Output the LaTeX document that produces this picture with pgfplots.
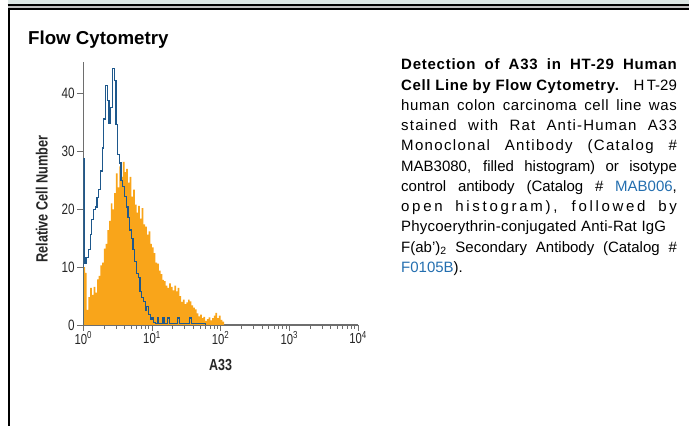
\documentclass[border=0pt]{standalone}
\usepackage{fontspec}
\setmainfont{Liberation Sans}
\newfontfamily\condf[FakeStretch=0.78]{Liberation Sans}
\usepackage{pgfplots}
\usepackage{pgfplotstable}
\pgfplotsset{compat=1.18}
\definecolor{historange}{RGB}{249,165,26}
\definecolor{isoblue}{RGB}{30,88,140}
\definecolor{axgray}{RGB}{110,110,110}
\definecolor{linkblue}{RGB}{35,110,175}
\definecolor{bandgray}{RGB}{219,229,227}

\pgfplotstableread{
u v
0.000 10.0
0.025 9.0
0.050 2.6
0.075 4.8
0.100 6.4
0.125 5.2
0.150 6.6
0.175 5.6
0.200 7.9
0.225 8.5
0.250 10.3
0.275 10.8
0.300 13.2
0.325 14.0
0.350 16.4
0.375 18.0
0.400 21.0
0.425 20.0
0.450 22.8
0.475 26.2
0.500 23.8
0.525 27.4
0.550 25.6
0.575 28.2
0.600 26.4
0.625 27.0
0.650 24.6
0.675 25.6
0.700 22.2
0.725 23.4
0.750 20.8
0.775 19.4
0.800 20.6
0.825 18.4
0.850 20.2
0.875 17.4
0.900 17.0
0.925 15.6
0.950 16.2
0.975 14.0
1.000 13.4
1.025 12.4
1.050 10.8
1.075 10.6
1.100 9.4
1.125 8.8
1.150 7.8
1.175 7.6
1.200 6.8
1.225 6.4
1.250 7.2
1.275 6.6
1.300 6.0
1.325 6.8
1.350 5.8
1.375 6.4
1.400 5.0
1.425 4.0
1.450 4.4
1.475 3.6
1.500 3.9
1.525 4.4
1.550 4.1
1.575 3.4
1.600 3.0
1.625 2.7
1.650 2.0
1.675 1.5
1.700 1.8
1.725 1.2
1.750 1.4
1.775 0.7
1.800 1.0
1.825 1.3
1.850 0.8
1.875 1.2
1.900 1.6
1.925 2.1
1.950 1.2
1.975 1.6
2.000 0.9
2.025 0.6
2.050 0.0
}\orangedata

\pgfplotstableread{
u v
0.000 0.0
0.000 28.8
0.015 10.7
0.040 11.6
0.075 13.0
0.100 15.6
0.125 18.2
0.150 20.0
0.175 20.4
0.200 22.0
0.225 23.4
0.250 26.6
0.275 30.6
0.300 35.6
0.325 41.4
0.350 38.8
0.375 34.8
0.400 37.6
0.425 44.3
0.450 42.2
0.475 34.6
0.500 29.4
0.525 28.0
0.550 25.0
0.575 24.0
0.600 22.2
0.625 20.4
0.650 18.6
0.675 16.4
0.700 15.0
0.725 13.0
0.750 11.0
0.775 8.9
0.800 8.2
0.825 5.8
0.850 4.8
0.875 4.0
0.900 2.6
0.925 3.2
0.950 1.8
0.975 1.0
1.000 1.2
1.025 0.5
1.050 0.3
1.075 1.2
1.100 0.3
1.125 0.3
1.150 1.2
1.175 0.3
1.200 0.3
1.225 1.2
1.250 0.3
1.275 0.3
1.300 0.3
1.325 0.3
1.350 0.3
1.375 1.2
1.400 0.3
1.425 0.3
1.450 0.3
1.475 0.3
1.500 0.3
1.525 0.3
1.550 1.2
1.575 0.3
1.600 0.2
1.625 0.2
1.650 0.2
1.675 0.2
1.700 0.2
1.725 0.2
1.750 0.2
1.775 0.0
}\bluedata

\newcommand\jl[2]{\node[anchor=base west, inner sep=0pt] at (401,{426-70-20.25*#1}) {\fontsize{15}{18}\selectfont #2};}

\begin{document}
\begin{tikzpicture}[x=1pt,y=1pt]
\useasboundingbox (0,0) rectangle (689,426);
% frame
\fill[bandgray] (7.5,426) rectangle (689,421.7);
\draw[black,line width=1.4pt] (7.5,421) -- (689,421);
\fill[black!25] (8,420.3) rectangle (689,418.3);
\draw[black,line width=2pt] (8,417.3) -- (689,417.3);
\draw[black,line width=2pt] (9,418.3) -- (9,0);
% title
\node[anchor=base west, inner sep=0pt] at (28,381) {\fontsize{18.7}{20}\selectfont\bfseries Flow Cytometry};

\begin{axis}[
  at={(83.3pt,101pt)}, anchor=south west,
  scale only axis, width=274.7pt, height=263.3pt,
  xmode=log, xmin=1, xmax=10000, ymin=0, ymax=45.5,
  axis x line*=bottom, axis y line*=left,
  axis line style={axgray, line width=1.1pt, -},
  xtick={1,10,100,1000,10000},
  xticklabels={10\textsuperscript{0},10\textsuperscript{1},10\textsuperscript{2},10\textsuperscript{3},10\textsuperscript{4}},
  minor xtick={2,3,4,5,6,7,8,9,20,30,40,50,60,70,80,90,200,300,400,500,600,700,800,900,2000,3000,4000,5000,6000,7000,8000,9000},
  ytick={0,10,20,30,40}, yticklabels={0,10,20,30,40},
  tick align=outside,
  major tick length=6pt, minor tick length=4pt,
  tick style={axgray, line width=0.9pt},
  xticklabel style={font=\condf\fontsize{14.5}{15}\selectfont, text=black!85, inner sep=0.5pt},
  yticklabel style={font=\condf\fontsize{15}{16}\selectfont, text=black!85, inner sep=2.5pt},
  xlabel={A33}, ylabel={Relative Cell Number},
  xlabel style={font=\condf\bfseries\fontsize{16}{17}\selectfont, text=black!85, at={(axis description cs:0.5,-0.152)}, anchor=center},
  ylabel style={font=\condf\bfseries\fontsize{16.3}{17}\selectfont, text=black!85, at={(axis description cs:-0.1514,0.478)}, anchor=center},
]
\addplot[const plot, fill=historange, draw=none] table[x expr=10^\thisrow{u}, y=v] {\orangedata} \closedcycle;
\addplot[const plot, draw=isoblue, line width=1.2pt] table[x expr=10^\thisrow{u}, y=v] {\bluedata};
\end{axis}

% caption text
\jl{0}{\makebox[275.7pt][s]{\bfseries\addfontfeature{LetterSpace=5}Detection of A33 in HT-29 Human}}
\jl{1}{\makebox[275.7pt][s]{{\bfseries\addfontfeature{LetterSpace=4}Cell Line by Flow Cytometry.}\hfill H\kern2.5pt T-29}}
\jl{2}{\makebox[275.7pt][s]{\addfontfeature{LetterSpace=4}human colon carcinoma cell line was}}
\jl{3}{\makebox[275.7pt][s]{\addfontfeature{LetterSpace=8}stained with Rat Anti-Human A33}}
\jl{4}{\makebox[275.7pt][s]{\addfontfeature{LetterSpace=9}Monoclonal Antibody (Catalog \#}}
\jl{5}{\makebox[275.7pt][s]{MAB3080, filled histogram) or isotype}}
\jl{6}{\makebox[275.7pt][s]{control antibody (Catalog \# \textcolor{linkblue}{MAB006},}}
\jl{7}{\makebox[275.7pt][s]{\addfontfeature{LetterSpace=18}open histogram), followed by}}
\jl{8}{\makebox[265pt][s]{\addfontfeature{LetterSpace=1.5}Phycoerythrin-conjugated Anti-Rat IgG}}
\jl{9}{\makebox[275.7pt][s]{F(ab')\textsubscript{2} Secondary Antibody (Catalog \#}}
\jl{10}{\textcolor{linkblue}{F0105B}).}
\end{tikzpicture}
\end{document}
